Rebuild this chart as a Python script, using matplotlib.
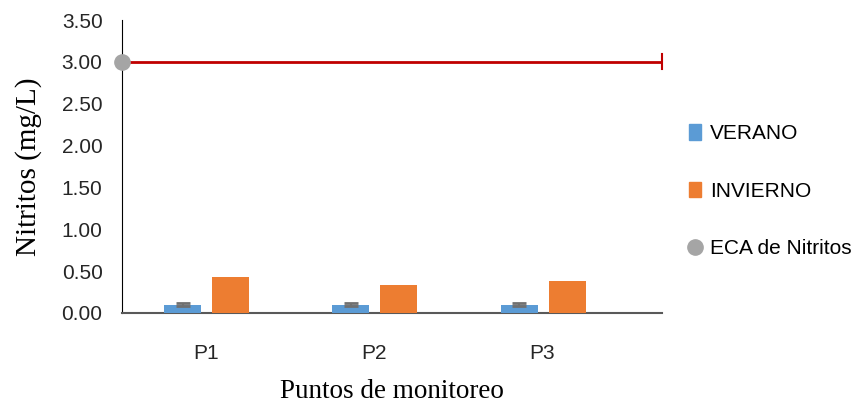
import numpy as np
import matplotlib.pyplot as plt
from matplotlib.lines import Line2D
from matplotlib.patches import Patch

puntos = ['P1', 'P2', 'P3']
verano = [0.10, 0.10, 0.10]
verano_err = [0.015, 0.015, 0.015]
invierno = [0.43, 0.33, 0.38]
eca_nitritos = 3.00

plt.rcParams['font.family'] = ['Liberation Sans', 'DejaVu Sans']

fig = plt.figure(figsize=(8.57, 4.07), dpi=100)
ax = fig.add_axes([122 / 857, 1 - 313 / 407, 540 / 857, 293 / 407])

x = np.arange(len(puntos))
w = 0.22
ax.bar(x - 0.14, verano, w, color='#5b9bd5', yerr=verano_err,
       error_kw=dict(ecolor='#707070', elinewidth=1.5, capsize=5, capthick=2), zorder=3)
ax.bar(x + 0.146, invierno, w, color='#ed7d31', zorder=3)

# linea del ECA
ax.plot([-0.5, 2.71], [eca_nitritos, eca_nitritos], color='#c00000', lw=2, zorder=4)
ax.plot([2.71, 2.71], [eca_nitritos - 0.09, eca_nitritos + 0.09], color='#c00000', lw=1.5, zorder=4,
        clip_on=False)
ax.plot([-0.5], [eca_nitritos], 'o', color='#a5a5a5', ms=11, zorder=5, clip_on=False)

ax.set_xlim(-0.5, 2.71)
ax.set_ylim(0, 3.5)
yt = np.arange(0, 3.51, 0.5)
ax.set_yticks(yt)
ax.set_yticklabels([f'{v:.2f}' for v in yt], fontsize=15, color='#262626')
ax.set_xticks(x)
ax.set_xticklabels(puntos, fontsize=15, color='#262626')
ax.tick_params(axis='x', length=0, pad=22)
ax.tick_params(axis='y', length=0, pad=14)

for s in ['top', 'right']:
    ax.spines[s].set_visible(False)
ax.spines['left'].set_color('#000000')
ax.spines['bottom'].set_color('#595959')
ax.spines['bottom'].set_linewidth(1.5)

ax.set_ylabel('Nitritos (mg/L)', family='Liberation Serif', fontsize=21, labelpad=14)
ax.set_xlabel('Puntos de monitoreo', family='Liberation Serif', fontsize=19.5, labelpad=12)

handles = [Patch(color='#5b9bd5'), Patch(color='#ed7d31'),
           Line2D([], [], marker='o', ls='', color='#a5a5a5', ms=11)]
ax.legend(handles, ['VERANO', 'INVIERNO', 'ECA de Nitritos'], loc='center left',
          bbox_to_anchor=(1.015, 0.416), frameon=False, fontsize=15,
          handlelength=0.6, handleheight=0.8, handletextpad=0.4, labelspacing=1.85)

fig.savefig('out.png', dpi=100)
